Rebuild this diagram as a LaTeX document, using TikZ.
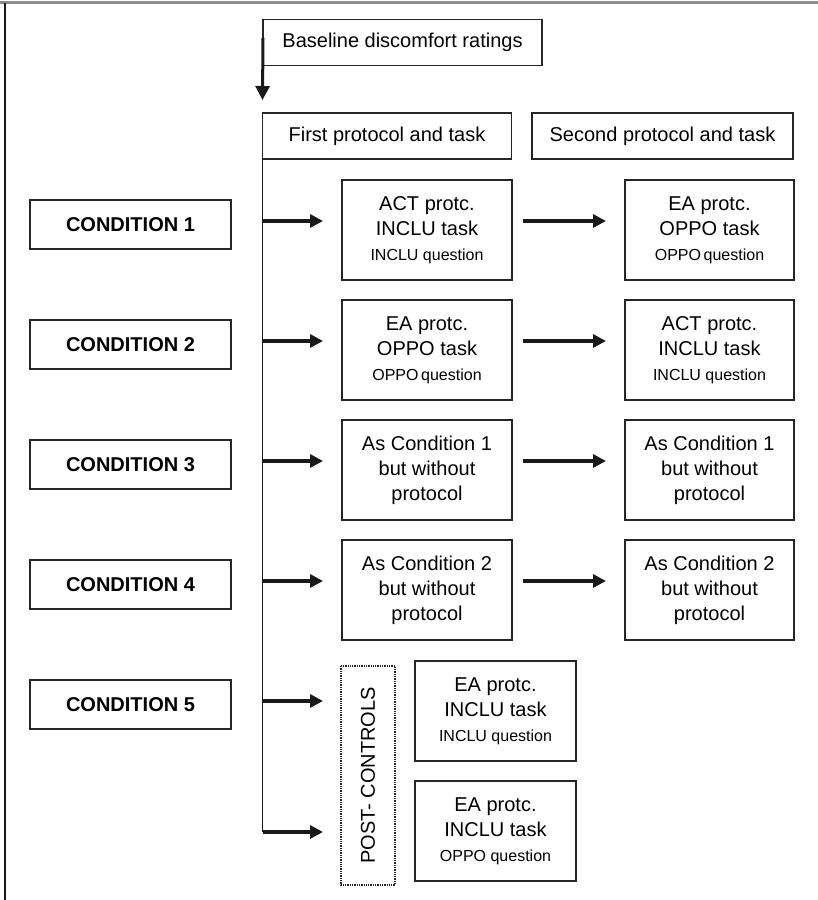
\documentclass[tikz,border=0pt]{standalone}
\usepackage{fontspec}
\setmainfont{Liberation Sans}
\usetikzlibrary{arrows.meta,calc}
\begin{document}
\begin{tikzpicture}[x=1pt,y=-1pt,
  box/.style={draw=black!85, line width=1.3pt, inner sep=0pt, outer sep=0pt, align=center, text=black, font=\fontsize{20}{25}\selectfont},
  hdr/.style={box, minimum height=46pt},
  cond/.style={box, minimum width=201pt, minimum height=49pt, font=\bfseries\fontsize{20}{25}\selectfont},
  mid/.style={box, minimum width=170pt, minimum height=100pt},
  rgt/.style={box, minimum width=169pt, minimum height=100pt},
  post/.style={box, minimum width=161pt, minimum height=100pt},
  dotbox/.style={box, densely dotted, line width=1.5pt, rotate=90, minimum width=219pt, minimum height=54pt},
  arr/.style={draw=black!90, line width=3.5pt, -{Triangle[length=13pt,width=13pt]}},
  bigarr/.style={draw=black!90, line width=3pt, -{Triangle[length=14pt,width=14pt]}},
  spine/.style={draw=black!90, line width=1.8pt},
]
\newcommand{\smalltxt}[1]{{\fontsize{16}{20}\selectfont #1}}
\useasboundingbox (0,0) rectangle (818,900);
% frame
\draw[black!45, line width=2.5pt] (0,2.5) -- (818,2.5);
\draw[black!90, line width=2pt] (4.5,2.5) -- (4.5,900);

% header boxes
\node[hdr, minimum width=279pt] (base) at (402.5,42.5) {Baseline discomfort ratings};
\node[hdr, minimum width=249pt] (first) at (387,136) {First protocol and task};
\node[hdr, minimum width=261pt] (second) at (662.5,136) {Second protocol and task};

\draw[bigarr] ([yshift=4.5pt]base.west) -- ([yshift=13pt]first.north west);

% conditions
\node[cond] (c1) at (130.5,224.5) {CONDITION 1};
\node[cond] (c2) at (130.5,344.5) {CONDITION 2};
\node[cond] (c3) at (130.5,464.5) {CONDITION 3};
\node[cond] (c4) at (130.5,584.5) {CONDITION 4};
\node[cond] (c5) at (130.5,704.5) {CONDITION 5};

% middle boxes
\node[mid] (m1) at (427,230) {ACT protc.\\INCLU task\\\smalltxt{INCLU question}};
\node[mid] (m2) at (427,350) {EA protc.\\OPPO task\\\smalltxt{OPPO\,question}};
\node[mid] (m3) at (427,470) {As Condition 1\\but without\\protocol};
\node[mid] (m4) at (427,590) {As Condition 2\\but without\\protocol};

% right boxes
\node[rgt] (r1) at (709.5,230) {EA protc.\\OPPO task\\\smalltxt{OPPO\,question}};
\node[rgt] (r2) at (709.5,350) {ACT protc.\\INCLU task\\\smalltxt{INCLU question}};
\node[rgt] (r3) at (709.5,470) {As Condition 1\\but without\\protocol};
\node[rgt] (r4) at (709.5,590) {As Condition 2\\but without\\protocol};

% post controls
\node[dotbox] (pc) at (368,775.5) {POST- CONTROLS};
\node[post] (p1) at (495.5,711) {EA protc.\\INCLU task\\\smalltxt{INCLU question}};
\node[post] (p2) at (495.5,831) {EA protc.\\INCLU task\\\smalltxt{OPPO question}};

% spine
\coordinate (s1) at (262.5,221);
\coordinate (s2) at (262.5,341);
\coordinate (s3) at (262.5,461);
\coordinate (s4) at (262.5,581);
\coordinate (s5) at (262.5,701);
\coordinate (s6) at (262.5,832);
\draw[spine] (first.south west) -- (s6);

% arrows from spine
\foreach \i in {1,2,3,4}{
  \draw[arr, shorten >=19pt] (s\i) -- (s\i -| m\i.west);
  \draw[arr, shorten <=11pt, shorten >=19pt] (s\i -| m\i.east) -- (s\i -| r\i.west);
}
\draw[arr, shorten >=18pt] (s5) -- (s5 -| pc.north);
\draw[arr, shorten >=18pt] (s6) -- (s6 -| pc.north);
\end{tikzpicture}
\end{document}
